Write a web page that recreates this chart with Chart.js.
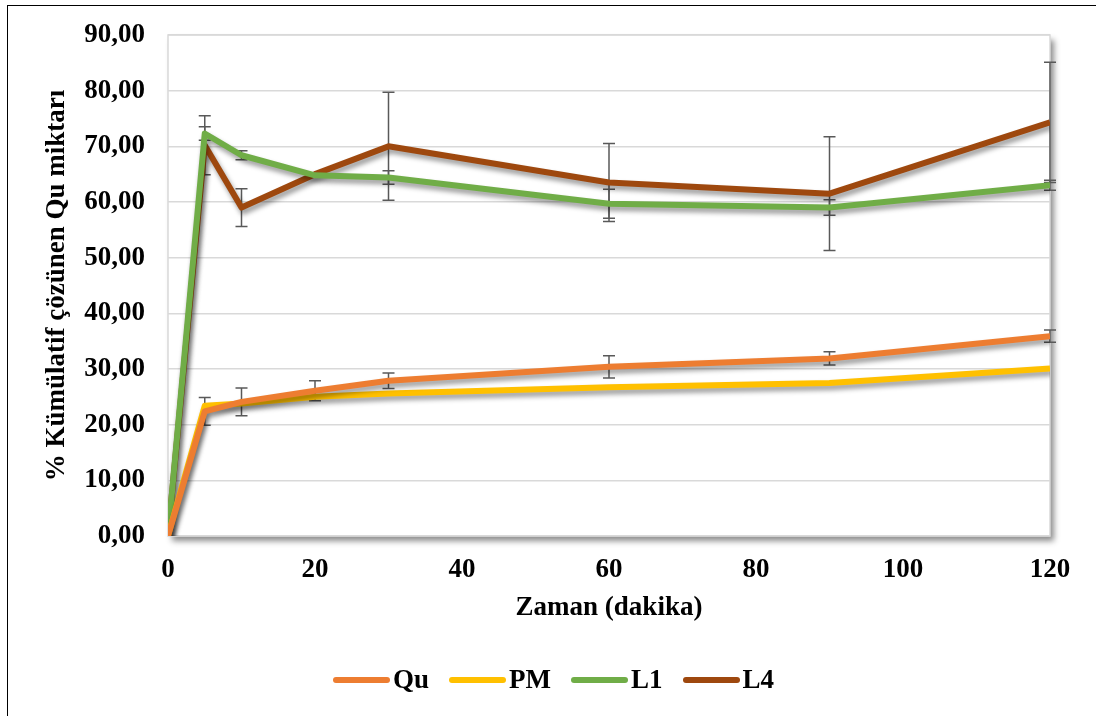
<!DOCTYPE html>
<html>
<head>
<meta charset="utf-8">
<script src="https://cdn.jsdelivr.net/npm/chart.js@4.4.1/dist/chart.umd.min.js"></script>
<style>
  html, body { margin: 0; padding: 0; background: #fff; }
  #wrap { position: relative; width: 1096px; height: 716px; overflow: hidden; }
  #frame { position: absolute; left: 7px; top: 5px; width: 1200px; height: 800px;
           border-left: 1.5px solid #000; border-top: 1.5px solid #000; }
  #legend { position: absolute; left: 333px; top: 664px; display: flex; align-items: center;
            font: bold 27px "Liberation Serif", "Times New Roman", serif; color: #000; }
  .item { display: flex; align-items: center; margin-right: 20px; }
  .swatch { width: 57px; height: 6px; border-radius: 3px; margin-right: 3px; }
</style>
</head>
<body>
<div id="wrap">
  <div id="frame"></div>
  <canvas id="dissolution" width="1096" height="716"></canvas>
  <div id="legend"></div>
</div>
<script>
// sampling times (dakika)
const times = [0, 5, 10, 20, 30, 60, 90, 120];

// cumulative dissolved amount (%) and standard deviations
const quValues = [0, 22.4, 24.1, 26.1, 27.9, 30.4, 31.9, 35.9];
const quErrors = [0, 2.5, 2.5, 1.8, 1.4, 2.0, 1.2, 1.1];
const pmValues = [0, 23.4, 23.8, 25.0, 25.6, 26.7, 27.5, 30.1];
const pmErrors = [0, 0, 0, 0, 0, 0, 0, 0];
const l1Values = [0, 72.3, 68.4, 64.8, 64.4, 59.7, 59.0, 63.0];
const l1Errors = [0, 1.2, 0.8, 0, 1.2, 2.6, 1.4, 0.9];
const l4Values = [0, 70.2, 59.0, 65.0, 70.0, 63.5, 61.5, 74.3];
const l4Errors = [0, 5.3, 3.4, 0, 9.7, 7.0, 10.2, 10.8];

const seriesNames = ['Qu', 'PM', 'L1', 'L4'];
const seriesColors = ['#ED7D31', '#FFC000', '#70AD47', '#9E480E'];

// axis tick labels
const xTickLabels = ['0', '20', '40', '60', '80', '100', '120'];
const yTickLabels = ['0,00', '10,00', '20,00', '30,00', '40,00', '50,00', '60,00', '70,00', '80,00', '90,00'];

const FONT = '"Liberation Serif", "Times New Roman", serif';

function toPoints(values) {
    return values.map((v, i) => ({ x: times[i], y: v }));
}

const allValues = [quValues, pmValues, l1Values, l4Values];
const allErrors = [quErrors, pmErrors, l1Errors, l4Errors];

const datasets = seriesNames.map((name, i) => ({
    label: name,
    data: toPoints(allValues[i]),
    errors: allErrors[i],
    borderColor: seriesColors[i],
    backgroundColor: seriesColors[i],
    borderWidth: 6,
    borderJoinStyle: 'round',
    pointRadius: 0,
    pointHoverRadius: 0,
    tension: 0,
    fill: false
}));

// white plot area with a soft drop shadow and light frame
const plotAreaBox = {
    id: 'plotAreaBox',
    beforeDraw(chart) {
        const { ctx, chartArea: a } = chart;
        ctx.save();
        ctx.shadowColor = 'rgba(0,0,0,0.45)';
        ctx.shadowBlur = 6;
        ctx.shadowOffsetX = 4;
        ctx.shadowOffsetY = 5;
        ctx.fillStyle = '#fff';
        ctx.fillRect(a.left, a.top, a.right - a.left, a.bottom - a.top);
        ctx.restore();
        ctx.save();
        ctx.strokeStyle = '#d9d9d9';
        ctx.lineWidth = 1.5;
        ctx.strokeRect(a.left, a.top, a.right - a.left, a.bottom - a.top);
        ctx.restore();
    }
};

// vertical error bars with caps, drawn under the lines
const errorBars = {
    id: 'errorBars',
    beforeDatasetsDraw(chart) {
        const { ctx, scales: { x, y } } = chart;
        ctx.save();
        ctx.strokeStyle = '#595959';
        ctx.lineWidth = 1.5;
        chart.data.datasets.forEach(ds => {
            ds.data.forEach((p, i) => {
                const e = ds.errors[i];
                if (!e) return;
                const px = x.getPixelForValue(p.x);
                const top = y.getPixelForValue(p.y + e);
                const bot = y.getPixelForValue(p.y - e);
                ctx.beginPath();
                ctx.moveTo(px, top);
                ctx.lineTo(px, bot);
                ctx.moveTo(px - 6, top);
                ctx.lineTo(px + 6, top);
                ctx.moveTo(px - 6, bot);
                ctx.lineTo(px + 6, bot);
                ctx.stroke();
            });
        });
        ctx.restore();
    }
};

// shadow under each series line
const lineShadow = {
    id: 'lineShadow',
    beforeDatasetDraw(chart) {
        const ctx = chart.ctx;
        ctx.save();
        ctx.shadowColor = 'rgba(0,0,0,0.4)';
        ctx.shadowBlur = 5;
        ctx.shadowOffsetX = 2;
        ctx.shadowOffsetY = 4;
    },
    afterDatasetDraw(chart) {
        chart.ctx.restore();
    }
};

const ctx = document.getElementById('dissolution').getContext('2d');

new Chart(ctx, {
    type: 'line',
    data: { datasets: datasets },
    options: {
        responsive: false,
        animation: false,
        devicePixelRatio: 1,
        layout: { padding: { left: 0, top: 35, right: 46, bottom: 80 } },
        plugins: {
            legend: { display: false },
            tooltip: { enabled: false }
        },
        scales: {
            x: {
                type: 'linear',
                min: 0,
                max: 120,
                border: { display: false },
                grid: { display: false, drawTicks: false },
                ticks: {
                    stepSize: 20,
                    padding: 18,
                    color: '#000',
                    font: { family: FONT, size: 27, weight: 'bold' },
                    callback: (v, i) => xTickLabels[i]
                },
                title: {
                    display: true,
                    text: 'Zaman (dakika)',
                    color: '#000',
                    font: { family: FONT, size: 27, weight: 'bold' },
                    padding: { top: 0, bottom: 12 }
                },
                afterFit(scale) { scale.height = 100; }
            },
            y: {
                min: 0,
                max: 90,
                border: { display: false },
                grid: { color: '#d9d9d9', lineWidth: 1.5, drawTicks: false },
                ticks: {
                    stepSize: 10,
                    padding: 23,
                    color: '#000',
                    font: { family: FONT, size: 27, weight: 'bold' },
                    callback: (v, i) => yTickLabels[i]
                },
                title: {
                    display: true,
                    text: '% Kümülatif çözünen Qu miktarı',
                    color: '#000',
                    font: { family: FONT, size: 27, weight: 'bold' },
                    padding: { top: 41, bottom: 0 }
                },
                afterFit(scale) {
                    scale.width = 168;
                    scale.paddingTop = 0;
                    scale.paddingBottom = 0;
                }
            }
        }
    },
    plugins: [plotAreaBox, errorBars, lineShadow]
});

// legend row under the chart
const legend = document.getElementById('legend');
seriesNames.forEach((name, i) => {
    const item = document.createElement('div');
    item.className = 'item';
    const sw = document.createElement('span');
    sw.className = 'swatch';
    sw.style.background = seriesColors[i];
    const label = document.createElement('span');
    label.textContent = name;
    item.appendChild(sw);
    item.appendChild(label);
    legend.appendChild(item);
});
</script>
</body>
</html>
